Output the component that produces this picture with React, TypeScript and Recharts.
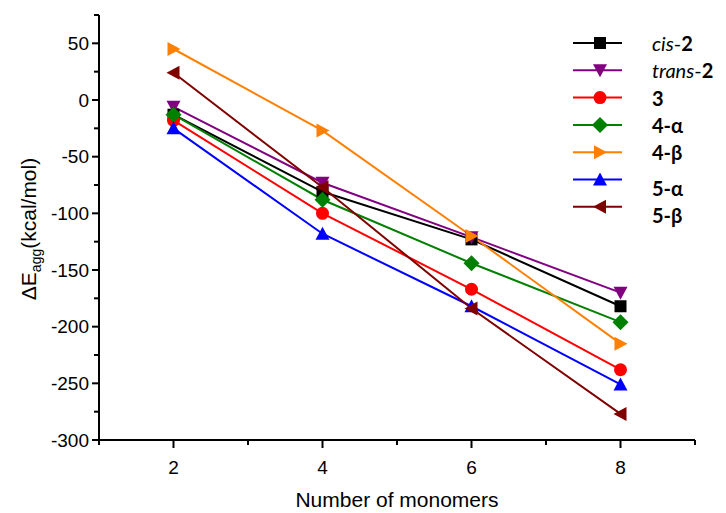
import React from "react";
import { LineChart, Line, XAxis, YAxis } from "recharts";

// values (kcal/mol)
const monomers = [2, 4, 6, 8];
const cis2 = [-13, -81, -123, -182];
const trans2 = [-6, -73, -121, -170];
const comp3 = [-18, -100, -167, -238];
const comp4a = [-13, -88, -144, -196];
const comp4b = [45, -27, -120, -215];
const comp5a = [-25, -118, -182, -251];
const comp5b = [24, -77, -184, -277];

const xTicks = [1, 2, 3, 4, 5, 6, 7, 8, 9];
const yTicks = [75, 50, 25, 0, -25, -50, -75, -100, -125, -150, -175, -200, -225, -250, -275, -300];

type Shape = "square" | "down" | "circle" | "diamond" | "right" | "up" | "left";

const series: { key: string; name: React.ReactNode; color: string; shape: Shape; values: number[] }[] = [
  { key: "cis2", name: <><tspan fontStyle="italic">cis</tspan>-<tspan fontWeight="bold">2</tspan></>, color: "#000000", shape: "square", values: cis2 },
  { key: "trans2", name: <><tspan fontStyle="italic">trans</tspan>-<tspan fontWeight="bold">2</tspan></>, color: "#800080", shape: "down", values: trans2 },
  { key: "c3", name: <tspan fontWeight="bold">3</tspan>, color: "#ff0000", shape: "circle", values: comp3 },
  { key: "c4a", name: <tspan fontWeight="bold">4-α</tspan>, color: "#008000", shape: "diamond", values: comp4a },
  { key: "c4b", name: <tspan fontWeight="bold">4-β</tspan>, color: "#ff8000", shape: "right", values: comp4b },
  { key: "c5a", name: <tspan fontWeight="bold">5-α</tspan>, color: "#0000ff", shape: "up", values: comp5a },
  { key: "c5b", name: <tspan fontWeight="bold">5-β</tspan>, color: "#800000", shape: "left", values: comp5b },
];

const data = monomers.map((n, i) => {
  const row: Record<string, number> = { n };
  series.forEach((s) => (row[s.key] = s.values[i]));
  return row;
});

function Marker({ shape, cx, cy, color }: { shape: Shape; cx: number; cy: number; color: string }) {
  if (cx == null || cy == null) return null;
  switch (shape) {
    case "square":
      return <rect x={cx - 6} y={cy - 6} width={12} height={12} fill={color} />;
    case "circle":
      return <circle cx={cx} cy={cy} r={6.5} fill={color} />;
    case "diamond":
      return <polygon points={`${cx},${cy - 8} ${cx + 8},${cy} ${cx},${cy + 8} ${cx - 8},${cy}`} fill={color} />;
    case "down":
      return <polygon points={`${cx - 7},${cy - 6} ${cx + 7},${cy - 6} ${cx},${cy + 7}`} fill={color} />;
    case "up":
      return <polygon points={`${cx - 7},${cy + 6} ${cx + 7},${cy + 6} ${cx},${cy - 7}`} fill={color} />;
    case "right":
      return <polygon points={`${cx - 6},${cy - 7} ${cx - 6},${cy + 7} ${cx + 7},${cy}`} fill={color} />;
    case "left":
      return <polygon points={`${cx + 6},${cy - 7} ${cx + 6},${cy + 7} ${cx - 7},${cy}`} fill={color} />;
  }
}

const XTick = ({ x, y, payload }: any) => {
  const major = payload.value % 2 === 0;
  return (
    <g>
      <line x1={x} x2={x} y1={y} y2={y + (major ? 8 : 5)} stroke="#000" strokeWidth={2} />
      {major && (
        <text x={x} y={y + 27} textAnchor="middle" dominantBaseline="central" fontSize={19} fill="#000">
          {payload.value}
        </text>
      )}
    </g>
  );
};

const YTick = ({ x, y, payload }: any) => {
  const major = payload.value % 50 === 0;
  return (
    <g>
      <line x1={x} x2={x - (major ? 7 : 5)} y1={y} y2={y} stroke="#000" strokeWidth={2} />
      {major && (
        <text x={x - 10} y={y} textAnchor="end" dominantBaseline="central" fontSize={19} fill="#000">
          {payload.value}
        </text>
      )}
    </g>
  );
};

const LegendBox = () => (
  <svg width={161} height={215} style={{ position: "absolute", left: 565, top: 28 }}>
    {series.map((s, i) => {
      const cy = 15 + i * 27.3;
      const ty = i >= 5 ? cy + 8 : cy;
      return (
        <g key={s.key}>
          <line x1={8} x2={57} y1={cy} y2={cy} stroke={s.color} strokeWidth={2} />
          <Marker shape={s.shape} cx={35} cy={cy} color={s.color} />
          <text x={87} y={ty} dominantBaseline="central" fontSize={20} fontFamily="Lato, 'Open Sans', sans-serif" fill="#000">
            {s.name}
          </text>
        </g>
      );
    })}
  </svg>
);

export default function App() {
  return (
    <div style={{ position: "absolute", left: 0, top: 0, width: 726, height: 513, fontFamily: "'Liberation Sans', Arial, sans-serif" }}>
      <LineChart width={726} height={513} data={data} margin={{ top: 15, right: 31, bottom: 0, left: 39 }}>
        <XAxis
          dataKey="n"
          type="number"
          domain={[1, 9]}
          ticks={xTicks}
          tickLine={false}
          tickSize={0}
          tickMargin={0}
          tick={<XTick />}
          axisLine={{ stroke: "#000", strokeWidth: 2 }}
          height={73}
          label={{ value: "Number of monomers", position: "insideBottom", offset: 6, fontSize: 21, fill: "#000" }}
        />
        <YAxis
          type="number"
          domain={[-300, 75]}
          ticks={yTicks}
          interval={0}
          tickLine={false}
          tickSize={0}
          tickMargin={0}
          tick={<YTick />}
          axisLine={{ stroke: "#000", strokeWidth: 2 }}
          width={60}
          label={{
            content: () => (
              <text transform="translate(36,229) rotate(-90)" textAnchor="middle" fontSize={21} fill="#000">
                ΔE
                <tspan dy={5} fontSize={14}>agg</tspan>
                <tspan dy={-5}>(kcal/mol)</tspan>
              </text>
            ),
          }}
        />
        {series.map((s) => (
          <Line
            key={s.key}
            dataKey={s.key}
            stroke={s.color}
            strokeWidth={2}
            isAnimationActive={false}
            dot={(p: any) => <Marker key={`${s.key}-${p.index}`} shape={s.shape} cx={p.cx} cy={p.cy} color={s.color} />}
            activeDot={false}
          />
        ))}
      </LineChart>
      <LegendBox />
    </div>
  );
}
